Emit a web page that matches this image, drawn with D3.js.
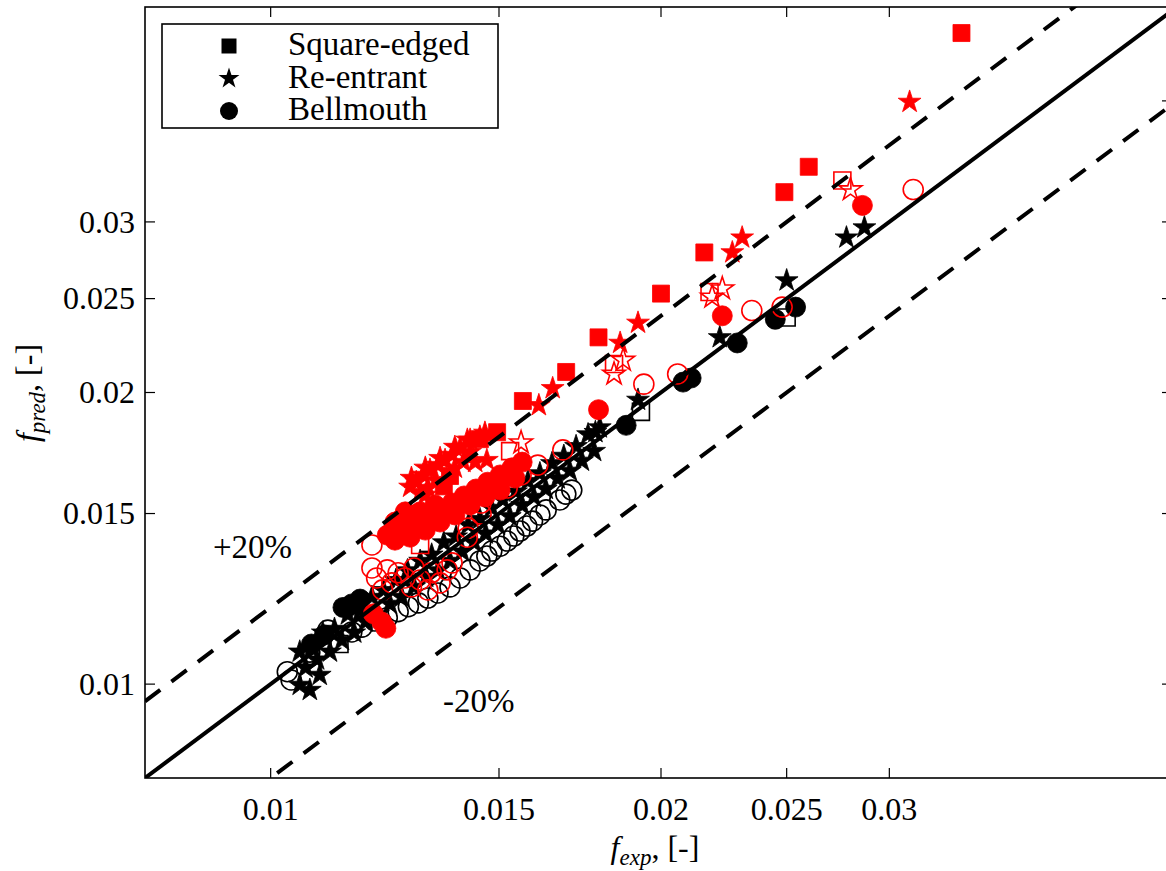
<!DOCTYPE html>
<html><head><meta charset="utf-8">
<script src="https://cdn.jsdelivr.net/npm/d3@7"></script>
<style>body{margin:0;background:#fff}svg{display:block}</style>
</head><body>
<svg id="c" width="1166" height="871"></svg>
<script>
// ---------------- data (f_exp, f_pred) ----------------
const xTickValues = [0.01, 0.015, 0.02, 0.025, 0.03];
const yTickValues = [0.01, 0.015, 0.02, 0.025, 0.03];
const rightExtraTicks = [0.04];
const axisDomain = [0.008, 0.05];
const refRatios = [1.0, 1.2, 0.8];
const legendLabels = ["Square-edged", "Re-entrant", "Bellmouth"];

const redSquareFilled = [[0.0341,0.0470],[0.0260,0.0342],[0.0249,0.0322],[0.0216,0.0279],[0.0200,0.0253],[0.0179,0.0228],[0.0169,0.0210],[0.01565,0.0196],[0.01495,0.0182],[0.0145,0.0179],[0.01375,0.0164],[0.0136,0.0160]];
const redStarFilled = [[0.0311,0.0399],[0.0231,0.0289],[0.0227,0.0279],[0.0192,0.0236],[0.0186,0.0225],[0.0165,0.0202],[0.0161,0.0194],
  [0.01468,0.01703],[0.01438,0.01695],[0.01418,0.01787],[0.01425,0.01736],[0.0140,0.01753],[0.0138,0.01724],[0.01363,0.01703],[0.01346,0.01683],[0.01327,0.01664],[0.01311,0.01644],[0.01295,0.01616],[0.01304,0.01578],[0.01322,0.01594],[0.01341,0.01624],[0.01387,0.01672],[0.01408,0.01695],[0.0145,0.0180],
  [0.01284,0.01632],[0.01316,0.01672],[0.01351,0.01711],[0.01387,0.01757],[0.01425,0.01787],[0.01463,0.01817],[0.01316,0.01568],[0.01281,0.01598]];
const redCircleFilled = [[0.0286,0.0312],[0.0223,0.0240],[0.0179,0.0192],
  [0.0124,0.01435],[0.01267,0.01452],[0.01295,0.0147],[0.01322,0.01498],[0.01351,0.01513],[0.0138,0.01538],[0.0141,0.01564],[0.0144,0.0159],[0.0147,0.01616],[0.01503,0.01644],[0.01535,0.01672],[0.01563,0.01695],
  [0.01247,0.01408],[0.01281,0.01418],[0.01316,0.01442],[0.01351,0.0147],[0.01387,0.01495],[0.01425,0.01531],[0.01463,0.0156],[0.01503,0.01586],[0.01543,0.01632],[0.01304,0.01506],[0.01339,0.01531],[0.01258,0.01477],
  [0.0127,0.01506],[0.01247,0.0147],[0.0123,0.01425],
  [0.0120,0.01182],[0.01218,0.01159],[0.01227,0.01142]];
const redSquareOpen = [[0.0276,0.0331],[0.0218,0.0254],[0.0184,0.0214],[0.0153,0.0174],[0.01304,0.01392]];
const redStarOpen = [[0.0280,0.0324],[0.0223,0.0256],[0.0219,0.0251],[0.0187,0.0216],[0.0184,0.0209],[0.0156,0.01775]];
const redCircleOpen = [[0.0313,0.0324],[0.0248,0.0245],[0.0235,0.0243],[0.0206,0.0209],[0.0194,0.0204],[0.0168,0.01745],[0.01607,0.01683],[0.0156,0.01644],[0.01522,0.01594],[0.01453,0.01538],[0.01453,0.01498],[0.0142,0.01449],[0.01418,0.01418],[0.01197,0.01392],[0.01197,0.01318],
  [0.01207,0.01287],[0.0122,0.01251],[0.0124,0.01272],[0.01254,0.01303],[0.01269,0.01287],[0.01284,0.0126],[0.01304,0.01281],[0.01322,0.01251],[0.0133,0.01303],[0.01351,0.01272],[0.01368,0.01312],[0.0138,0.01334],[0.0123,0.01312],[0.0129,0.01318]];
const blackStarFilled = [[0.0287,0.0296],[0.0278,0.0289],[0.0250,0.0261],[0.0222,0.0228],[0.0192,0.01965],[0.0178,0.0182],
  [0.01053,0.0108],[0.01075,0.0109],[0.01097,0.0113],[0.0112,0.0114],[0.01147,0.0118],[0.01172,0.0119],[0.01197,0.0123],[0.01222,0.0125],[0.01249,0.0128],[0.01275,0.0131],[0.01304,0.0134],[0.01331,0.0136],[0.0136,0.0140],[0.0139,0.0142],[0.0142,0.0146],[0.0145,0.0148],[0.0148,0.0152],[0.0151,0.0155],[0.01546,0.0158],[0.01579,0.0162],[0.01613,0.0165],[0.01648,0.0169],[0.01683,0.0172],[0.0172,0.0176],[0.01757,0.0181],[0.01794,0.0184],
  [0.01064,0.0104],[0.01086,0.0106],[0.01111,0.0108],[0.01135,0.0111],[0.0116,0.0113],[0.01184,0.0116],[0.0121,0.0118],[0.01236,0.0121],[0.01262,0.0123],[0.0129,0.0126],[0.01318,0.0129],[0.01346,0.0131],[0.01375,0.0134],[0.01405,0.0137],[0.01435,0.0140],[0.01465,0.0143],[0.01497,0.0146],[0.01529,0.0149],[0.01563,0.0153],[0.01596,0.0156],[0.0163,0.0159],[0.01665,0.0163],[0.01701,0.0166],[0.01738,0.0170],[0.01776,0.0174],
  [0.01053,0.00998],[0.01072,0.00986],[0.01091,0.01022]];
const blackCircleFilled = [[0.0254,0.0245],[0.0245,0.0238],[0.0229,0.0225],[0.0211,0.0207],[0.0208,0.0205],[0.0188,0.0185],
  [0.01137,0.0120],[0.01155,0.0121],[0.01172,0.01224],[0.0110,0.01124],[0.01075,0.0110]];
const blackSquareOpen = [[0.0193,0.0191],[0.0250,0.0239],[0.0113,0.0110]];
const blackCircleOpen = [[0.0103,0.0103],[0.01037,0.0101],[0.01072,0.01079],[0.01107,0.01137],
  [0.01155,0.01132],[0.01176,0.01145],[0.01203,0.01162],[0.0123,0.01171],[0.01254,0.01188],[0.01277,0.01202],[0.013,0.01213],[0.01322,0.01227],[0.01346,0.01242],[0.01375,0.0126],[0.0140,0.01287],[0.01425,0.01312],[0.0145,0.0134],[0.01481,0.01372],[0.01522,0.01405],[0.01557,0.01439],[0.01592,0.01473],[0.01631,0.01513],[0.01671,0.01549],[0.01707,0.01586],
  [0.01613,0.01495],[0.01576,0.01456],[0.0154,0.01422],[0.01503,0.01388],[0.01468,0.01356],[0.01689,0.01571]];

// ---------------- drawing ----------------
const svg = d3.select("#c");
const FONT = "'Liberation Serif','DejaVu Serif','Times New Roman',serif";
const L = 145, R = 1177, T = 7, B = 778;
const x = d3.scaleLog().domain(axisDomain).range([L, R]);
const y = d3.scaleLog().domain(axisDomain).range([B, T]);

svg.append("defs").append("clipPath").attr("id","clip")
  .append("rect").attr("x",L).attr("y",T).attr("width",R-L).attr("height",B-T);
const plot = svg.append("g").attr("clip-path","url(#clip)");

const SIZES = {square: 17*17, circle: Math.PI*10*10, star: 12*12/0.8908};
const SYMS = {square: d3.symbolSquare, circle: d3.symbolCircle, star: d3.symbolStar};
function drawSeries(data, shape, color, filled){
  const sym = d3.symbol().type(SYMS[shape]).size(SIZES[shape]);
  plot.append("g").selectAll("path").data(data).join("path")
    .attr("d", sym)
    .attr("transform", d => `translate(${x(d[0])},${y(d[1])})`)
    .attr("fill", filled ? color : "none")
    .attr("stroke", color)
    .attr("stroke-width", filled ? 0.8 : 1.6);
}
drawSeries(blackCircleOpen, "circle", "#000", false);
drawSeries(blackCircleFilled, "circle", "#000", true);
drawSeries(blackSquareOpen, "square", "#000", false);
drawSeries(blackStarFilled, "star", "#000", true);
drawSeries(redStarFilled, "star", "#ff0000", true);
drawSeries(redCircleFilled, "circle", "#ff0000", true);
drawSeries(redSquareFilled, "square", "#ff0000", true);
drawSeries(redSquareOpen, "square", "#ff0000", false);
drawSeries(redStarOpen, "star", "#ff0000", false);
drawSeries(redCircleOpen, "circle", "#ff0000", false);

// reference lines
const line = d3.line().x(d => x(d[0])).y(d => y(d[1]));
refRatios.forEach(r => {
  const pts = [[axisDomain[0], axisDomain[0]*r],[axisDomain[1], axisDomain[1]*r]];
  plot.append("path").attr("d", line(pts)).attr("fill","none")
    .attr("stroke","#000").attr("stroke-width",4)
    .attr("stroke-dasharray", r === 1 ? null : "19,14");
});

// frame
svg.append("rect").attr("x",L).attr("y",T).attr("width",R-L).attr("height",B-T)
  .attr("fill","none").attr("stroke","#000").attr("stroke-width",1.6);

// ticks
const tl = 10;
const tickG = svg.append("g").attr("stroke","#000").attr("stroke-width",1.2);
xTickValues.forEach(v => {
  tickG.append("line").attr("x1",x(v)).attr("x2",x(v)).attr("y1",B).attr("y2",B-tl);
  tickG.append("line").attr("x1",x(v)).attr("x2",x(v)).attr("y1",T).attr("y2",T+tl);
});
yTickValues.concat(rightExtraTicks).forEach(v => {
  if (yTickValues.includes(v))
    tickG.append("line").attr("x1",L).attr("x2",L+tl).attr("y1",y(v)).attr("y2",y(v));
  tickG.append("line").attr("x1",R).attr("x2",R-15).attr("y1",y(v)).attr("y2",y(v));
});

const fmt = v => String(v);
svg.append("g").selectAll("text").data(xTickValues).join("text")
  .attr("x", d => x(d)).attr("y", 820).attr("text-anchor","middle")
  .style("font-family",FONT).attr("font-size",32).text(fmt);
svg.append("g").selectAll("text").data(yTickValues).join("text")
  .attr("x", 135).attr("y", d => y(d)).attr("dy","0.34em").attr("text-anchor","end")
  .style("font-family",FONT).attr("font-size",32).text(fmt);

// axis labels
function axisLabel(g, sub){
  g.append("tspan").attr("font-style","italic").text("f");
  g.append("tspan").attr("font-style","italic").attr("font-size",23).attr("dy",7).text(sub);
  g.append("tspan").attr("dy",-7).text(", [-]");
}
const xl = svg.append("text").attr("x",655).attr("y",858).attr("text-anchor","middle")
  .style("font-family",FONT).attr("font-size",32);
axisLabel(xl, "exp");
const yl = svg.append("text").attr("transform","translate(38,393) rotate(-90)").attr("text-anchor","middle")
  .style("font-family",FONT).attr("font-size",32);
axisLabel(yl, "pred");

// annotations
svg.append("text").attr("x",213).attr("y",558).style("font-family",FONT).attr("font-size",33).text("+20%");
svg.append("text").attr("x",443).attr("y",712).style("font-family",FONT).attr("font-size",33).text("-20%");

// legend
const lg = svg.append("g");
lg.append("rect").attr("x",162).attr("y",24).attr("width",336).attr("height",104)
  .attr("fill","#fff").attr("stroke","#000").attr("stroke-width",1.6);
const legShapes = ["square","star","circle"];
const legSizes = {square: 15*15, star: 11*11/0.8908, circle: Math.PI*9*9};
legendLabels.forEach((lab, i) => {
  const by = 55 + i*32.5;
  lg.append("path").attr("d", d3.symbol().type(SYMS[legShapes[i]]).size(legSizes[legShapes[i]]))
    .attr("transform", `translate(229,${by-9})`).attr("fill","#000");
  lg.append("text").attr("x",288).attr("y",by).style("font-family",FONT).attr("font-size",33).text(lab);
});
</script>
</body></html>
